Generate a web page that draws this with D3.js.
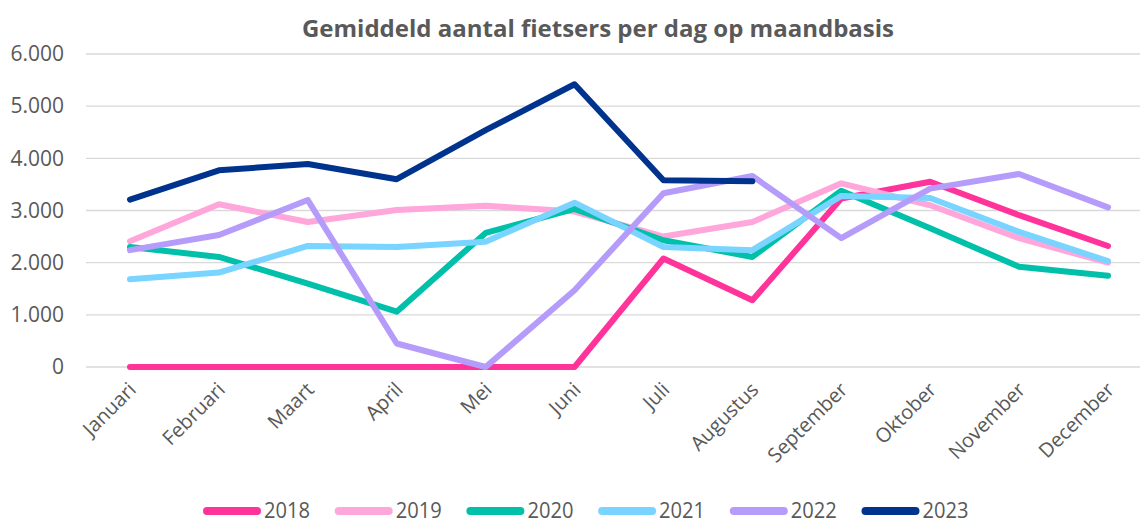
<!DOCTYPE html>
<html>
<head>
<meta charset="utf-8">
<script src="https://cdn.jsdelivr.net/npm/d3@7"></script>
<style>
  html, body { margin: 0; padding: 0; background: #fff; }
  svg { display: block; font-family: "Open Sans", sans-serif; }
</style>
</head>
<body>
<svg id="chart" width="1140" height="524"></svg>
<script>
// Average number of cyclists per day, per month
const months = ["Januari","Februari","Maart","April","Mei","Juni","Juli","Augustus","September","Oktober","November","December"];
const years = ["2018","2019","2020","2021","2022","2023"];
const colors = ["#ff3399","#ffa6da","#00c0aa","#79d4ff","#b69cfa","#00338d"];
const yTicks = [0,1000,2000,3000,4000,5000,6000];

const v2018 = [0,0,0,0,0,0,2080,1280,3230,3550,2910,2320];
const v2019 = [2410,3120,2780,3010,3090,2980,2500,2780,3520,3100,2470,2000];
const v2020 = [2300,2110,1600,1060,2570,3030,2430,2110,3380,2660,1920,1750];
const v2021 = [1680,1810,2320,2300,2400,3150,2300,2240,3280,3240,2590,2030];
const v2022 = [2240,2530,3200,450,0,1470,3330,3660,2470,3420,3700,3060];
const v2023 = [3210,3770,3890,3600,4540,5420,3580,3560];

const seriesValues = [v2018, v2019, v2020, v2021, v2022, v2023];

const svg = d3.select("#chart");
const textColor = "#595959";

const x = d3.scalePoint().domain(months).range([130, 1108]);
const y = d3.scaleLinear().domain([0, 6000]).range([367, 54]);

// Title
svg.append("text")
  .attr("x", 598).attr("y", 37)
  .attr("text-anchor", "middle")
  .attr("font-size", 24).attr("font-weight", "bold")
  .attr("fill", textColor)
  .text("Gemiddeld aantal fietsers per dag op maandbasis");

// Gridlines
const fmt = d => d === 0 ? "0" : d3.format(",")(d).replace(/,/g, ".");
svg.append("g")
  .selectAll("line").data(yTicks).join("line")
  .attr("x1", 86).attr("x2", 1140)
  .attr("y1", d => y(d)).attr("y2", d => y(d))
  .attr("stroke", "#d9d9d9").attr("stroke-width", 1.3);

// Y axis labels
const yAxis = d3.axisLeft(y).tickValues(yTicks).tickFormat(fmt).tickSize(0).tickPadding(0);
const gy = svg.append("g").attr("transform", "translate(64,0)").call(yAxis);
gy.select(".domain").remove();
gy.selectAll("text").attr("font-size", 21).attr("fill", textColor).attr("font-family", "'Open Sans', sans-serif");

// X axis labels, rotated
const xAxis = d3.axisBottom(x).tickSize(0).tickPadding(0);
const gx = svg.append("g").attr("transform", "translate(0,386)").call(xAxis);
gx.select(".domain").remove();
gx.selectAll("text")
  .attr("font-size", 20).attr("fill", textColor).attr("font-family", "'Open Sans', sans-serif")
  .attr("text-anchor", "end")
  .attr("dy", "0.35em")
  .attr("transform", "translate(2,0) rotate(-45)");

// Lines
const line = d3.line()
  .x((d, i) => x(months[i]))
  .y(d => y(d));

svg.append("g")
  .selectAll("path").data(seriesValues).join("path")
  .attr("d", d => line(d))
  .attr("fill", "none")
  .attr("stroke", (d, i) => colors[i])
  .attr("stroke-width", 6)
  .attr("stroke-linejoin", "round")
  .attr("stroke-linecap", "round");

// Legend
const legend = svg.append("g").attr("transform", "translate(207,511)");
const items = legend.selectAll("g").data(years).join("g")
  .attr("transform", (d, i) => `translate(${i * 131.7},0)`);
items.append("line")
  .attr("x1", 0).attr("x2", 50).attr("y1", 0).attr("y2", 0)
  .attr("stroke", (d, i) => colors[i])
  .attr("stroke-width", 8)
  .attr("stroke-linecap", "round");
items.append("text")
  .attr("x", 57).attr("y", 7)
  .attr("font-size", 21).attr("fill", textColor)
  .attr("textLength", 46).attr("lengthAdjust", "spacingAndGlyphs")
  .text(d => d);
</script>
</body>
</html>
